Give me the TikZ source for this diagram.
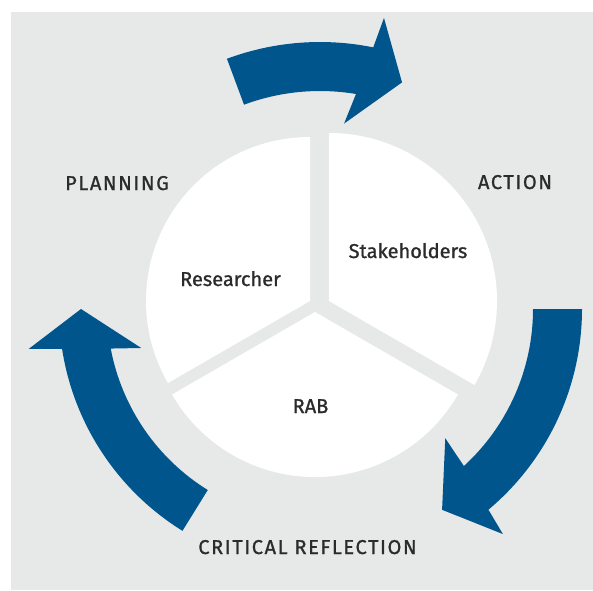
\documentclass[tikz,border=0pt]{standalone}
\usepackage{fontspec}
\setmainfont{Fira Sans}[FakeBold=1]
\newfontfamily\spacedfont{Fira Sans}[FakeBold=1, LetterSpace=8]
\usetikzlibrary{positioning}
\definecolor{cycleblue}{HTML}{00558C}
\definecolor{panelgrey}{HTML}{E7E9E9}
\definecolor{labelgrey}{HTML}{2B2B2B}

\begin{document}
\begin{tikzpicture}[x=1pt,y=1pt,
  member/.style={font=\fontsize{20}{24}\selectfont, text=labelgrey, anchor=base, inner sep=0pt},
  phase/.style={member, font=\spacedfont\fontsize{20}{24}\selectfont},
  piece/.style={fill=white},
  band/.style={fill=cycleblue}]
\useasboundingbox (0,0) rectangle (593,-590);
\fill[panelgrey] (11,-12) rectangle (593,-590);
% the three pieces of the circle
\fill[piece, shift={(310,-301)}] (0,0) -- (90:164) arc[start angle=90, end angle=210, radius=164] -- cycle;
\fill[piece, shift={(329,-301)}] (0,0) -- (90:168) arc[start angle=90, end angle=-30, radius=168] -- cycle;
\fill[piece, shift={(315,-312)}] (0,0) -- (210:165) arc[start angle=210, end angle=330, radius=165] -- cycle;
% the cycle arrows
\fill[band, shift={(320,-309)}] (110.4:267) arc[start angle=110.4, end angle=78.5, radius=267]
  -- (77.6:298) -- (70.1:241) -- (82.6:187) -- (80.5:218)
  arc[start angle=80.5, end angle=110.4, radius=218] -- cycle;
\fill[band, shift={(320,-309)}] (0:262) arc[start angle=0, end angle=-50, radius=262]
  -- (-50.9:290) -- (-58.7:235) -- (-45.9:180) -- (-47.5:213)
  arc[start angle=-47.5, end angle=0, radius=213] -- cycle;
\fill[band, shift={(320,-309)}] (238.2:261) arc[start angle=238.2, end angle=188.8, radius=261]
  -- (187.8:294) -- (180:239) -- (192.3:183) -- (190.7:213)
  arc[start angle=190.7, end angle=238.2, radius=213] -- cycle;
% labels
\node[phase] (planning) at (117,-190) {PLANNING};
\node[phase] (action) at (515,-189) {ACTION};
\node[phase] (reflection) at (307.5,-554) {CRITICAL REFLECTION};
\node[member] (researcher) at (230.5,-286) {Researcher};
\node[member] (stakeholders) at (408,-258) {Stakeholders};
\node[member] (rab) at (310.5,-413) {RAB};
\end{tikzpicture}
\end{document}
